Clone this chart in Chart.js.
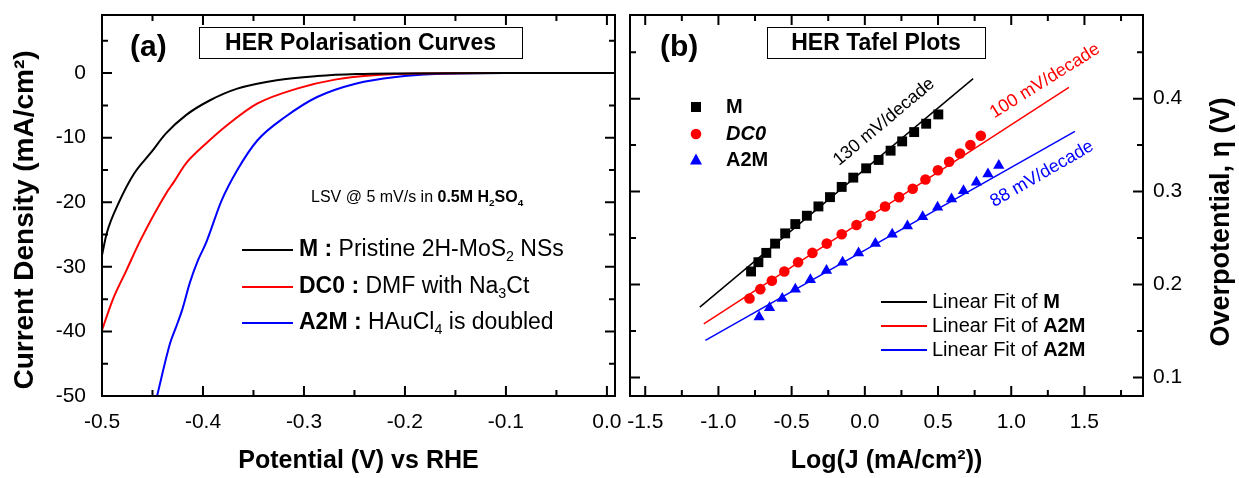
<!DOCTYPE html>
<html>
<head>
<meta charset="utf-8">
<script src="https://cdn.jsdelivr.net/npm/chart.js@4.4.1/dist/chart.umd.min.js"></script>
<style>
	html, body { margin: 0; padding: 0; background: #fff; }
	#wrap { position: relative; width: 1239px; height: 478px; }
	#wrap canvas { position: absolute; left: 0; top: 0; }
</style>
</head>
<body>
<div id="wrap">
	<canvas id="lsv" width="1239" height="478"></canvas>
	<canvas id="tafel" width="1239" height="478"></canvas>
</div>
<script>
const FONT = '"Liberation Sans", Arial, Helvetica, sans-serif';

// (a) LSV polarisation curves: potential (V vs RHE) / current density (mA/cm2)
const mPotential = [-0.5, -0.4953, -0.4835, -0.468, -0.452, -0.4364, -0.4168, -0.393, -0.366, -0.327, -0.287, -0.248, -0.2, -0.1, 0.008];
const mCurrent = [-28.2, -24.8, -20.1, -15.5, -12.4, -9.3, -6.5, -4.2, -2.4, -1.1, -0.46, -0.15, -0.05, 0, 0];
const dc0Potential = [-0.5, -0.4894, -0.4757, -0.462, -0.4364, -0.4286, -0.417, -0.397, -0.374, -0.346, -0.307, -0.268, -0.228, -0.19, -0.1, 0.008];
const dc0Current = [-39.8, -35.1, -30.5, -25.9, -18.6, -16.8, -14.0, -10.9, -7.8, -4.7, -2.4, -0.97, -0.3, -0.05, 0, 0];
const a2mPotential = [-0.4455, -0.4325, -0.4266, -0.4207, -0.4129, -0.405, -0.397, -0.3815, -0.366, -0.346, -0.3187, -0.287, -0.248, -0.209, -0.17, -0.1, 0.008];
const a2mCurrent = [-50, -41.8, -39.3, -36.7, -32.4, -29.0, -26.3, -19.7, -15.0, -10.4, -6.8, -3.7, -1.6, -0.6, -0.15, 0, 0];

const potentialTicks = [-0.5, -0.4, -0.3, -0.2, -0.1, 0.0];
const currentTicks = [-50, -40, -30, -20, -10, 0];

// (b) Tafel plots: log(J) / overpotential (V)
const mLogJ = [-0.777, -0.727, -0.673, -0.613, -0.544, -0.475, -0.396, -0.317, -0.238, -0.158, -0.079, 0.009, 0.094, 0.176, 0.255, 0.337, 0.419, 0.502];
const mEta = [0.214, 0.224, 0.234, 0.244, 0.255, 0.265, 0.274, 0.284, 0.294, 0.305, 0.315, 0.325, 0.334, 0.344, 0.354, 0.364, 0.373, 0.383];
const dc0LogJ = [-0.788, -0.714, -0.635, -0.55, -0.456, -0.358, -0.26, -0.158, -0.057, 0.039, 0.138, 0.234, 0.327, 0.414, 0.499, 0.576, 0.65, 0.721, 0.792];
const dc0Eta = [0.185, 0.195, 0.204, 0.214, 0.224, 0.234, 0.244, 0.254, 0.264, 0.274, 0.284, 0.294, 0.303, 0.313, 0.323, 0.332, 0.341, 0.35, 0.36];
const a2mLogJ = [-0.722, -0.651, -0.564, -0.475, -0.372, -0.262, -0.152, -0.043, 0.072, 0.187, 0.291, 0.395, 0.497, 0.592, 0.674, 0.762, 0.841, 0.915];
const a2mEta = [0.165, 0.175, 0.185, 0.195, 0.205, 0.215, 0.224, 0.234, 0.244, 0.254, 0.263, 0.273, 0.283, 0.292, 0.301, 0.31, 0.319, 0.328];

// linear fits (end points)
const mFitLogJ = [-1.127, 0.74];
const mFitEta = [0.1756, 0.4215];
const dc0FitLogJ = [-1.10, 1.394];
const dc0FitEta = [0.1577, 0.4122];
const a2mFitLogJ = [-1.089, 1.435];
const a2mFitEta = [0.1398, 0.3648];

const logJTicks = [-1.5, -1.0, -0.5, 0.0, 0.5, 1.0, 1.5];
const etaTicks = [0.1, 0.2, 0.3, 0.4];

function pts(xs, ys) {
	return xs.map(function(x, i) { return {x: x, y: ys[i]}; });
}

// text with bold / italic / subscript runs
function richText(ctx, x, y, runs, size) {
	ctx.save();
	ctx.textAlign = 'left';
	ctx.textBaseline = 'middle';
	runs.forEach(function(r) {
		var st = r[1] || '';
		var sub = st.indexOf('s') >= 0;
		var sz = sub ? size * 0.62 : size;
		var w = st.indexOf('b') >= 0 ? 'bold ' : '';
		var it = st.indexOf('i') >= 0 ? 'italic ' : '';
		ctx.font = it + w + sz + 'px ' + FONT;
		ctx.fillText(r[0], x, sub ? y + size * 0.32 : y);
		x += ctx.measureText(r[0]).width;
	});
	ctx.restore();
}

function boxedTitle(ctx, text, x, y, w, h) {
	ctx.save();
	ctx.fillStyle = '#fff';
	ctx.fillRect(x, y, w, h);
	ctx.strokeStyle = '#000';
	ctx.lineWidth = 1;
	ctx.strokeRect(x + 0.5, y + 0.5, w, h);
	ctx.fillStyle = '#000';
	ctx.font = 'bold 23px ' + FONT;
	ctx.textAlign = 'center';
	ctx.textBaseline = 'middle';
	ctx.fillText(text, x + w / 2, y + h / 2 + 1);
	ctx.restore();
}

// vertical axis title, reading bottom to top
function sideTitle(ctx, text, x, y, size) {
	ctx.save();
	ctx.translate(x, y);
	ctx.rotate(-Math.PI / 2);
	ctx.fillStyle = '#000';
	ctx.font = 'bold ' + size + 'px ' + FONT;
	ctx.textAlign = 'center';
	ctx.textBaseline = 'middle';
	ctx.fillText(text, 0, 0);
	ctx.restore();
}

function minorOf(major, lo, hi) {
	var step = major[1] - major[0], out = [];
	for (var v = major[0] - step / 2; v <= hi + 1e-9; v += step) {
		if (v >= lo - 1e-9) out.push(v);
	}
	return out;
}

// box round the plot, ticks pointing inward on all four sides
function drawFrame(chart, xMajor, yMajor) {
	var ctx = chart.ctx, a = chart.chartArea;
	var xs = chart.scales.x, ys = chart.scales.y;
	ctx.save();
	ctx.strokeStyle = '#000';
	ctx.lineWidth = 2;
	ctx.beginPath();
	var mark = function(vals, len) {
		vals.forEach(function(v) {
			var px = xs.getPixelForValue(v);
			ctx.moveTo(px, a.bottom); ctx.lineTo(px, a.bottom - len);
			ctx.moveTo(px, a.top); ctx.lineTo(px, a.top + len);
		});
	};
	var markY = function(vals, len) {
		vals.forEach(function(v) {
			var py = ys.getPixelForValue(v);
			ctx.moveTo(a.left, py); ctx.lineTo(a.left + len, py);
			ctx.moveTo(a.right, py); ctx.lineTo(a.right - len, py);
		});
	};
	mark(xMajor, 10);
	mark(minorOf(xMajor, xs.min, xs.max), 6);
	markY(yMajor, 10);
	markY(minorOf(yMajor, ys.min, ys.max), 6);
	ctx.stroke();
	ctx.strokeRect(a.left, a.top, a.right - a.left, a.bottom - a.top);
	ctx.restore();
}

function tickFont() { return {family: FONT, size: 21}; }
function titleFont() { return {family: FONT, size: 25, weight: 'bold'}; }

// keep chart areas where the reference has them
function fixX(s) { s.height = 82; s.paddingLeft = 0; s.paddingRight = 0; }

const lsvDecor = {
	id: 'lsvDecor',
	afterDraw: function(chart) {
		var ctx = chart.ctx;
		drawFrame(chart, potentialTicks, currentTicks);
		boxedTitle(ctx, 'HER Polarisation Curves', 199, 27, 323, 31);
		sideTitle(ctx, 'Current Density (mA/cm\u00b2)', 25, 220, 28);
		ctx.save();
		ctx.fillStyle = '#000';
		ctx.font = 'bold 30px ' + FONT;
		ctx.textBaseline = 'middle';
		ctx.fillText('(a)', 130, 48);
		ctx.restore();
		richText(ctx, 311, 198, [['LSV @ 5 mV/s in '], ['0.5M H', 'b'], ['2', 'bs'], ['SO', 'b'], ['4', 'bs']], 16);
		var rows = [
			['#000000', 250, [['M : ', 'b'], ['Pristine 2H-MoS'], ['2', 's'], [' NSs']]],
			['#ff0000', 287, [['DC0 : ', 'b'], ['DMF with Na'], ['3', 's'], ['Ct']]],
			['#0000ff', 323, [['A2M : ', 'b'], ['HAuCl'], ['4', 's'], [' is doubled']]]
		];
		rows.forEach(function(r) {
			ctx.save();
			ctx.strokeStyle = r[0];
			ctx.lineWidth = 2;
			ctx.beginPath();
			ctx.moveTo(242, r[1]); ctx.lineTo(293, r[1]);
			ctx.stroke();
			ctx.restore();
			richText(ctx, 299, r[1], r[2], 23);
		});
	}
};

function marker(ctx, style, x, y, color) {
	ctx.save();
	ctx.fillStyle = color;
	ctx.beginPath();
	if (style === 'rect') {
		ctx.rect(x - 5, y - 5, 10, 10);
	} else if (style === 'circle') {
		ctx.arc(x, y, 5.3, 0, Math.PI * 2);
	} else {
		ctx.moveTo(x, y - 6.5); ctx.lineTo(x + 6, y + 4.5); ctx.lineTo(x - 6, y + 4.5); ctx.closePath();
	}
	ctx.fill();
	ctx.restore();
}

function rotatedText(ctx, text, x, y, deg, color) {
	ctx.save();
	ctx.translate(x, y);
	ctx.rotate(deg * Math.PI / 180);
	ctx.fillStyle = color;
	ctx.font = '18px ' + FONT;
	ctx.textAlign = 'center';
	ctx.textBaseline = 'middle';
	ctx.fillText(text, 0, 0);
	ctx.restore();
}

const tafelDecor = {
	id: 'tafelDecor',
	afterDraw: function(chart) {
		var ctx = chart.ctx;
		drawFrame(chart, logJTicks, etaTicks);
		boxedTitle(ctx, 'HER Tafel Plots', 767, 27, 218, 31);
		sideTitle(ctx, 'Overpotential, \u03b7 (V)', 1222, 222, 27);
		ctx.save();
		ctx.fillStyle = '#000';
		ctx.font = 'bold 30px ' + FONT;
		ctx.textBaseline = 'middle';
		ctx.fillText('(b)', 660, 48);
		ctx.restore();

		marker(ctx, 'rect', 696, 107, '#000');
		marker(ctx, 'circle', 696, 134, '#ff0000');
		marker(ctx, 'triangle', 696, 160, '#0000ff');
		richText(ctx, 726, 107, [['M', 'b']], 20);
		richText(ctx, 726, 134, [['DC0', 'bi']], 20);
		richText(ctx, 726, 160, [['A2M', 'b']], 20);

		rotatedText(ctx, '130 mV/decade', 884, 122, -40, '#000');
		rotatedText(ctx, '100 mV/decade', 1045, 81, -32, '#ff0000');
		rotatedText(ctx, '88 mV/decade', 1042, 174, -30, '#0000ff');

		var fits = [['#000000', 302, 'M'], ['#ff0000', 326, 'A2M'], ['#0000ff', 350, 'A2M']];
		fits.forEach(function(f) {
			ctx.save();
			ctx.strokeStyle = f[0];
			ctx.lineWidth = 2;
			ctx.beginPath();
			ctx.moveTo(881, f[1]); ctx.lineTo(927, f[1]);
			ctx.stroke();
			ctx.restore();
			richText(ctx, 932, f[1], [['Linear Fit of '], [f[2], 'b']], 20);
		});
	}
};

function curve(data, color) {
	return {data: data, borderColor: color, backgroundColor: color, borderWidth: 2,
		showLine: true, pointRadius: 0, cubicInterpolationMode: 'monotone'};
}
function fitLine(data, color) {
	return {data: data, borderColor: color, borderWidth: 1.5, showLine: true, pointRadius: 0};
}
function markers(data, color, style, r) {
	return {data: data, backgroundColor: color, borderColor: color, borderWidth: 0,
		pointStyle: style, pointRadius: r, showLine: false};
}

new Chart(document.getElementById('lsv'), {
	type: 'scatter',
	data: {
		datasets: [
			curve(pts(mPotential, mCurrent), '#000000'),
			curve(pts(dc0Potential, dc0Current), '#ff0000'),
			curve(pts(a2mPotential, a2mCurrent), '#0000ff')
		]
	},
	options: {
		responsive: false,
		animation: false,
		events: [],
		layout: {padding: {left: 0, right: 624, top: 15, bottom: 0}},
		plugins: {legend: {display: false}, tooltip: {enabled: false}},
		scales: {
			x: {
				type: 'linear', min: -0.5, max: 0.008,
				grid: {display: false, drawTicks: false}, border: {display: false},
				afterBuildTicks: function(s) { s.ticks = potentialTicks.map(function(v) { return {value: v}; }); },
				ticks: {font: tickFont(), color: '#000', padding: 14, maxRotation: 0, autoSkip: false,
					callback: function(v) { return v.toFixed(1); }},
				title: {display: true, text: 'Potential (V) vs RHE', color: '#000', font: titleFont(), padding: {top: 0, bottom: 2}},
				afterFit: fixX
			},
			y: {
				type: 'linear', min: -50, max: 9,
				grid: {display: false, drawTicks: false}, border: {display: false},
				afterBuildTicks: function(s) { s.ticks = currentTicks.map(function(v) { return {value: v}; }); },
				ticks: {font: tickFont(), color: '#000', padding: 16,
					callback: function(v) { return String(v); }},
				afterFit: function(s) { s.width = 102; s.paddingTop = 0; s.paddingBottom = 0; }
			}
		}
	},
	plugins: [lsvDecor]
});

new Chart(document.getElementById('tafel'), {
	type: 'scatter',
	data: {
		datasets: [
			fitLine(pts(mFitLogJ, mFitEta), '#000000'),
			fitLine(pts(dc0FitLogJ, dc0FitEta), '#ff0000'),
			fitLine(pts(a2mFitLogJ, a2mFitEta), '#0000ff'),
			markers(pts(mLogJ, mEta), '#000000', 'rect', 7),
			markers(pts(dc0LogJ, dc0Eta), '#ff0000', 'circle', 5.3),
			markers(pts(a2mLogJ, a2mEta), '#0000ff', 'triangle', 6.5)
		]
	},
	options: {
		responsive: false,
		animation: false,
		events: [],
		layout: {padding: {left: 630, right: 0, top: 15, bottom: 0}},
		plugins: {legend: {display: false}, tooltip: {enabled: false}},
		scales: {
			x: {
				type: 'linear', min: -1.604, max: 1.9,
				grid: {display: false, drawTicks: false}, border: {display: false},
				afterBuildTicks: function(s) { s.ticks = logJTicks.map(function(v) { return {value: v}; }); },
				ticks: {font: tickFont(), color: '#000', padding: 14, maxRotation: 0, autoSkip: false,
					callback: function(v) { return v.toFixed(1); }},
				title: {display: true, text: 'Log(J (mA/cm\u00b2))', color: '#000', font: titleFont(), padding: {top: 0, bottom: 2}},
				afterFit: fixX
			},
			y: {
				type: 'linear', position: 'right', min: 0.08, max: 0.49,
				grid: {display: false, drawTicks: false}, border: {display: false},
				afterBuildTicks: function(s) { s.ticks = etaTicks.map(function(v) { return {value: v}; }); },
				ticks: {font: tickFont(), color: '#000', padding: 10,
					callback: function(v) { return v.toFixed(1); }},
				afterFit: function(s) { s.width = 96; s.paddingTop = 0; s.paddingBottom = 0; }
			}
		}
	},
	plugins: [tafelDecor]
});
</script>
</body>
</html>
